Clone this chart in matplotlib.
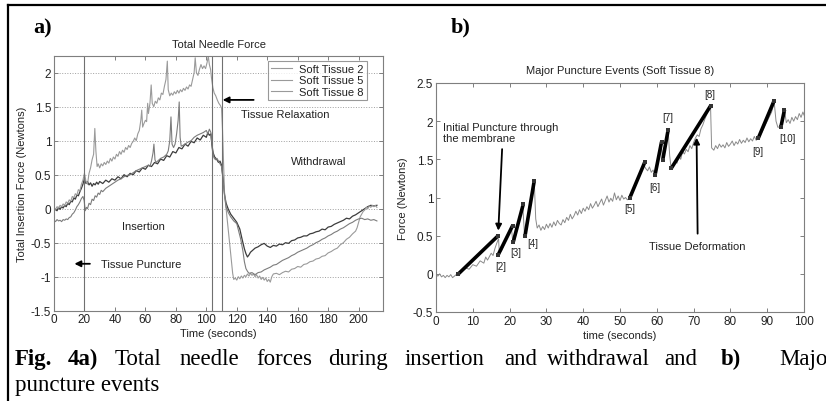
import numpy as np
import matplotlib
matplotlib.use("Agg")
import matplotlib.pyplot as plt
from matplotlib.lines import Line2D

plt.rcParams['font.family'] = ['Liberation Sans', 'DejaVu Sans']

# ---- panel a: total needle force, three tissues ----
t_st5 = [0, 1, 2, 3, 4, 5, 6, 7, 8, 9, 10, 11, 12, 13, 14, 15, 16, 17, 18, 19, 20, 21, 22, 23, 24, 25, 26,
         26.8, 27.5, 28.3, 29, 30, 31, 32, 33, 34, 35, 36, 37, 38, 39, 40, 41, 42, 43, 44, 45, 46, 47, 48, 49,
         50, 51, 52, 53, 54, 55, 56, 57, 57.6, 58.2, 59, 60, 60.8, 61.5, 62, 63, 63.8, 64.5, 65.5, 66.5, 67.5,
         68.5, 69.5, 70.5, 71.5, 72.5, 73.5, 74.4, 75, 76, 77, 78, 79, 80, 81, 82, 83, 84, 85, 86, 87, 88, 89,
         90, 91, 92, 92.7, 93.5, 94.5, 95.5, 96.5, 97.5, 98.5, 99.5, 100.5, 101.3, 102, 102.8, 103.4, 104.3,
         105.2, 106.2, 107.2, 108.2, 109.2, 110, 110.6, 111.3, 112, 113, 114.3, 115.5, 116.5, 117.3, 118, 119,
         120, 121, 122, 123, 124, 125, 126, 127, 128, 129, 130, 131, 132, 133, 134, 135, 136, 137, 138, 139,
         140, 141, 142, 143, 144, 146, 148, 150, 152, 154, 156, 158, 160, 162, 164, 166, 168, 170, 172, 174,
         176, 178, 180, 182, 184, 186, 188, 190, 192, 194, 196, 198, 199, 200, 201, 202, 203, 204, 205, 206,
         207, 208, 209, 210, 211, 212]
f_st5 = [0.02, -0.01, 0.03, 0.01, 0.05, 0.03, 0.07, 0.05, 0.1, 0.08, 0.13, 0.11, 0.18, 0.16, 0.22, 0.2, 0.28,
         0.26, 0.36, 0.42, 0.52, 0.4, 0.36, 0.52, 0.6, 0.72, 0.8, 1.18, 0.85, 0.62, 0.66, 0.6, 0.66, 0.63,
         0.68, 0.65, 0.7, 0.67, 0.74, 0.7, 0.76, 0.73, 0.8, 0.77, 0.84, 0.8, 0.86, 0.83, 0.9, 0.87, 0.93, 0.9,
         0.96, 0.99, 1.04, 1.0, 1.1, 1.15, 1.3, 1.45, 1.2, 1.25, 1.3, 1.28, 1.55, 1.4, 1.55, 1.82, 1.55, 1.5,
         1.58, 1.55, 1.63, 1.6, 1.7, 1.68, 1.8, 1.9, 2.17, 1.75, 1.66, 1.7, 1.67, 1.72, 1.69, 1.74, 1.7, 1.75,
         1.72, 1.77, 1.74, 1.79, 1.76, 1.82, 1.8, 1.9, 2.0, 2.22, 2.0, 1.96, 2.05, 2.12, 2.06, 2.1, 2.06, 2.15,
         2.24, 2.12, 2.05, 1.92, 1.78, 1.7, 1.66, 1.6, 1.55, 1.52, 1.48, 1.18, 0.7, 0.2, 0.0, -0.29, -0.55,
         -0.78, -0.95, -1.04, -1.02, -1.05, -1.0, -1.03, -0.99, -1.02, -0.98, -1.0, -0.96, -0.99, -0.95, -0.98,
         -0.96, -1.0, -0.97, -1.02, -0.99, -1.04, -1.01, -1.05, -1.02, -1.07, -1.04, -1.08, -1.0, -0.96,
         -0.95, -0.97, -0.94, -0.92, -0.93, -0.89, -0.88, -0.85, -0.86, -0.82, -0.81, -0.78, -0.77, -0.74,
         -0.73, -0.7, -0.69, -0.65, -0.63, -0.6, -0.58, -0.53, -0.5, -0.45, -0.42, -0.37, -0.33, -0.28, -0.2,
         -0.12, -0.08, -0.04, -0.02, 0.02, 0.0, 0.04, 0.02, 0.05, 0.03, 0.05, 0.02]

t_st2 = [0, 2, 3, 4, 5, 6, 7, 8, 9, 10, 11, 12, 13, 14, 15, 16, 17, 18, 19, 20, 21, 22, 23, 24, 25, 26, 27,
         28, 29, 30, 32, 34, 36, 38, 40, 42, 44, 46, 48, 50, 52, 54, 56, 58, 60, 62, 64, 66, 68, 70, 72, 74,
         76, 78, 80, 82, 84, 86, 88, 90, 92, 94, 96, 98, 100, 101, 102, 103, 103.6, 104.5, 105.5, 106.7, 108,
         109, 110, 111, 112, 113, 114.3, 116, 118, 120, 122, 123.5, 125, 126, 127, 128, 129, 130, 132, 134,
         136, 138, 140, 142, 144, 146, 148, 150, 152, 154, 156, 158, 160, 162, 164, 166, 168, 170, 172, 174,
         176, 178, 180, 182, 184, 186, 188, 190, 192, 194, 196, 198, 200, 202, 204, 206, 208, 210, 212]
f_st2 = [0.0, -0.03, 0.02, -0.01, 0.03, 0.01, 0.05, 0.03, 0.08, 0.06, 0.11, 0.1, 0.16, 0.14, 0.2, 0.19, 0.25,
         0.3, 0.36, 0.45, 0.37, 0.4, 0.35, 0.38, 0.33, 0.37, 0.35, 0.39, 0.36, 0.4, 0.37, 0.42, 0.39, 0.44,
         0.42, 0.47, 0.44, 0.5, 0.47, 0.52, 0.5, 0.56, 0.54, 0.6, 0.58, 0.64, 0.62, 0.68, 0.66, 0.73, 0.71,
         0.78, 0.76, 0.84, 0.82, 0.9, 0.88, 0.95, 0.92, 0.99, 0.97, 1.04, 1.01, 1.08, 1.05, 1.12, 1.08, 1.1,
         0.95, 0.82, 0.76, 0.73, 0.68, 0.7, 0.64, 0.45, 0.2, 0.08, 0.0, -0.08, -0.14, -0.2, -0.3, -0.45, -0.59,
         -0.66, -0.71, -0.68, -0.64, -0.62, -0.58, -0.56, -0.53, -0.51, -0.55, -0.57, -0.54, -0.55, -0.52,
         -0.53, -0.5, -0.51, -0.47, -0.46, -0.43, -0.42, -0.4, -0.4, -0.37, -0.36, -0.34, -0.33, -0.3, -0.31,
         -0.27, -0.26, -0.23, -0.21, -0.19, -0.17, -0.14, -0.15, -0.11, -0.09, -0.06, -0.03, 0.0, 0.03, 0.05,
         0.04, 0.05]

t_st8 = [0, 1, 2, 3, 4, 5, 6, 7, 8, 9, 10, 11, 12, 13, 14, 15, 16, 17, 18, 19, 19.8, 20.5, 21.3, 22, 23, 24,
         25, 26, 27, 28, 29, 30, 31, 32, 34, 36, 38, 40, 42, 44, 46, 48, 50, 52, 54, 56, 58, 60, 62, 63, 64,
         65, 65.6, 66.3, 67, 68, 70, 72, 74, 75, 76, 76.8, 77.5, 78.5, 79.5, 80.5, 81.5, 82.2, 82.8, 83.5,
         84.5, 86, 88, 90, 92, 94, 96, 98, 100, 101, 102, 103, 104, 105, 106, 107, 108, 109, 110, 111, 112,
         113, 114.5, 116, 118, 120, 121.5, 122.6, 124, 125, 126, 127, 128, 130, 132, 134, 136, 138, 140, 142,
         144, 146, 148, 150, 152, 154, 156, 158, 160, 162, 164, 166, 168, 170, 172, 174, 176, 178, 180, 182,
         184, 186, 188, 190, 192, 194, 196, 198, 200, 202, 204, 206, 208, 210, 212]
f_st8 = [-0.17, -0.19, -0.16, -0.18, -0.17, -0.19, -0.16, -0.17, -0.15, -0.16, -0.13, -0.12, -0.08, -0.06,
         -0.02, 0.03, 0.06, 0.1, 0.15, 0.18, 0.12, -0.03, 0.02, 0.0, 0.08, 0.06, 0.14, 0.12, 0.19, 0.17, 0.23,
         0.21, 0.27, 0.25, 0.3, 0.33, 0.36, 0.39, 0.42, 0.44, 0.47, 0.49, 0.5, 0.53, 0.56, 0.58, 0.6, 0.62,
         0.64, 0.62, 0.7, 0.82, 0.95, 0.72, 0.68, 0.7, 0.74, 0.76, 0.8, 0.85, 1.0, 1.35, 0.95, 0.9, 0.95, 1.1,
         1.3, 1.57, 1.05, 0.92, 0.93, 0.95, 0.98, 1.0, 1.05, 1.08, 1.1, 1.12, 1.15, 1.1, 1.17, 1.12, 0.86,
         0.75, 0.72, 0.74, 0.7, 0.66, 0.62, 0.42, 0.2, 0.02, -0.06, -0.12, -0.18, -0.22, -0.35, -0.45, -0.62,
         -0.78, -0.88, -0.92, -0.95, -0.94, -0.97, -0.94, -0.93, -0.9, -0.88, -0.86, -0.83, -0.82, -0.79,
         -0.76, -0.74, -0.72, -0.69, -0.67, -0.64, -0.62, -0.6, -0.58, -0.55, -0.53, -0.5, -0.48, -0.45,
         -0.43, -0.4, -0.38, -0.35, -0.33, -0.3, -0.28, -0.25, -0.22, -0.2, -0.17, -0.15, -0.14, -0.16,
         -0.15, -0.17, -0.16, -0.18]

phase_lines = [20, 103.5, 110]

# ---- panel b: soft tissue 8, major puncture events ----
t_b = [0, 0.5, 1, 1.5, 2, 2.5, 3, 3.5, 4, 4.5, 5, 5.5, 6, 7, 8, 9, 10, 11, 12, 13, 13.5, 14, 15, 15.5, 16,
       16.5, 17, 17.2, 17.8, 18.5, 19.5, 20.5, 20.8, 21.2, 22, 23, 23.6, 24, 24.3, 25, 26, 26.7, 27.1, 27.5,
       28, 28.5, 29, 29.5, 30, 30.5, 31, 31.5, 32, 32.5, 33, 33.5, 34, 34.5, 35, 35.5, 36, 36.5, 37, 37.5,
       38, 38.5, 39, 39.5, 40, 40.5, 41, 41.5, 42, 42.5, 43, 43.5, 44, 44.5, 45, 45.5, 46, 46.5, 47, 47.5,
       48, 48.5, 49, 49.5, 50, 50.5, 51, 51.5, 52, 52.7, 53.5, 54.5, 55.5, 56.5, 57, 57.5, 58, 58.5, 59,
       59.5, 60, 60.5, 61.2, 61.6, 62, 62.5, 63.1, 63.5, 63.9, 64.5, 65, 65.5, 66, 66.5, 67, 67.5, 68, 68.5,
       69, 69.5, 70, 70.5, 71, 71.5, 72, 72.5, 73, 73.5, 74, 74.6, 74.9, 75.5, 76, 76.5, 77, 77.5, 78, 78.5,
       79, 79.5, 80, 80.5, 81, 81.5, 82, 82.5, 83, 83.5, 84, 84.5, 85, 85.5, 86, 86.5, 87, 87.6, 88.5, 89.5,
       90.5, 91.2, 91.9, 92.4, 92.9, 93.7, 94.2, 94.7, 95.2, 95.7, 96.2, 96.7, 97.2, 97.7, 98.2, 98.7, 99.2,
       99.7, 100]
f_b = [-0.01, -0.03, 0.0, -0.04, -0.02, -0.05, -0.02, -0.04, -0.01, -0.05, -0.03, -0.01, 0.0, 0.03, 0.08,
       0.06, 0.12, 0.1, 0.17, 0.14, 0.22, 0.18, 0.27, 0.24, 0.33, 0.4, 0.46, 0.28, 0.3, 0.38, 0.5, 0.6, 0.45,
       0.4, 0.58, 0.8, 0.88, 0.55, 0.48, 0.75, 1.05, 1.21, 0.72, 0.6, 0.64, 0.57, 0.62, 0.58, 0.65, 0.6,
       0.66, 0.61, 0.68, 0.63, 0.7, 0.66, 0.64, 0.71, 0.67, 0.74, 0.7, 0.78, 0.72, 0.76, 0.82, 0.77, 0.84,
       0.79, 0.86, 0.82, 0.88, 0.84, 0.92, 0.86, 0.9, 0.95, 0.88, 0.93, 0.98, 0.9, 0.96, 1.02, 0.94, 0.99,
       0.95, 1.06, 0.97, 1.02, 0.96, 1.03, 0.98, 1.0, 0.97, 1.0, 1.1, 1.22, 1.33, 1.42, 1.38, 1.35, 1.4, 1.33,
       1.36, 1.28, 1.4, 1.55, 1.7, 1.48, 1.6, 1.75, 1.87, 1.55, 1.38, 1.42, 1.48, 1.45, 1.55, 1.5, 1.6, 1.57,
       1.63, 1.6, 1.68, 1.64, 1.72, 1.78, 1.82, 1.8, 1.9, 1.95, 2.02, 2.08, 2.14, 2.2, 1.65, 1.62, 1.68, 1.64,
       1.7, 1.66, 1.69, 1.65, 1.72, 1.67, 1.7, 1.74, 1.68, 1.73, 1.7, 1.76, 1.71, 1.75, 1.72, 1.78, 1.73,
       1.77, 1.74, 1.8, 1.75, 1.78, 1.85, 1.95, 2.05, 2.12, 2.25, 2.0, 1.92, 1.93, 2.05, 2.15, 1.98, 2.02,
       1.97, 2.05, 2.0, 2.06, 2.02, 2.1, 2.05, 2.12, 2.08]

# fitted puncture segments: start / end of each event
ev_t0 = [6.1, 16.9, 21.0, 24.2, 52.7, 59.5, 61.6, 63.9, 87.6, 93.7]
ev_f0 = [0.0, 0.25, 0.42, 0.5, 1.0, 1.29, 1.49, 1.38, 1.78, 1.92]
ev_t1 = [16.9, 20.8, 23.7, 26.7, 56.8, 61.3, 63.1, 74.6, 91.9, 94.7]
ev_f1 = [0.5, 0.63, 0.91, 1.22, 1.47, 1.73, 1.89, 2.2, 2.27, 2.15]
ev_labels = ['[2]', '[3]', '[4]', '[5]', '[6]', '[7]', '[8]', '[9]', '[10]']
ev_lab_t = [17.6, 21.7, 26.3, 52.7, 59.5, 63.1, 74.5, 87.4, 95.5]
ev_lab_f = [0.1, 0.28, 0.41, 0.86, 1.14, 2.05, 2.35, 1.61, 1.78]

AX_GRAY = '#7f7f7f'
TXT = '#222222'

fig = plt.figure(figsize=(8.26, 4.02), dpi=100)
fig.patch.set_facecolor('white')


def style_axes(ax):
    for s in ax.spines.values():
        s.set_color(AX_GRAY)
        s.set_linewidth(0.8)
    ax.tick_params(direction='in', length=3, width=0.7, color=AX_GRAY, labelcolor=TXT,
                   labelsize=8.5, top=True, right=True, pad=2)


# panel a
ax1 = fig.add_axes([54 / 826, 1 - 311.7 / 402, 329 / 826, 255 / 402])
ax1.plot(t_st2, f_st2, color='#3c3c3c', lw=0.9, label='Soft Tissue 2')
ax1.plot(t_st5, f_st5, color='#9a9a9a', lw=0.8, label='Soft Tissue 5')
ax1.plot(t_st8, f_st8, color='#7c7c7c', lw=0.8, label='Soft Tissue 8')
for x in phase_lines:
    ax1.axvline(x, color='#707070', lw=0.8)
ax1.set_xlim(0, 216)
ax1.set_ylim(-1.5, 2.25)
ax1.set_xticks(np.arange(0, 201, 20))
ax1.set_yticks(np.arange(-1.5, 2.01, 0.5))
ax1.set_yticklabels(['-1.5', '-1', '-0.5', '0', '0.5', '1', '1.5', '2'])
ax1.yaxis.grid(True, linestyle=':', color='#a0a0a0', lw=0.7)
style_axes(ax1)
ax1.text(0.5, 1.046, 'Total Needle Force', transform=ax1.transAxes, ha='center', va='center',
         fontsize=8, color=TXT)
ax1.set_xlabel('Time (seconds)', fontsize=8, color=TXT)
ax1.xaxis.set_label_coords(0.5, -0.067)
ax1.set_ylabel('Total Insertion Force (Newtons)', fontsize=8, color=TXT)
ax1.yaxis.set_label_coords(-0.082, 0.5)
leg = ax1.legend(loc='upper right', bbox_to_anchor=(0.951, 0.979), borderaxespad=0, fontsize=8,
                 fancybox=False, edgecolor=AX_GRAY, handlelength=1.9, handletextpad=0.6,
                 labelspacing=0.1, borderpad=0.3)
leg.get_frame().set_linewidth(0.8)
for line in leg.get_lines():
    line.set_color('#9a9a9a')
    line.set_linewidth(0.8)
for txt in leg.get_texts():
    txt.set_color(TXT)

arrow = dict(arrowstyle='-|>', color='black', lw=1.3, mutation_scale=9)
ax1.annotate('', xy=(108.9, 1.6), xytext=(132.9, 1.6), arrowprops=arrow)
ax1.text(122.6, 1.39, 'Tissue Relaxation', fontsize=8, color=TXT, va='center')
ax1.text(174, 0.7, 'Withdrawal', fontsize=8, color=TXT, ha='center', va='center')
ax1.text(59, -0.26, 'Insertion', fontsize=8, color=TXT, ha='center', va='center')
ax1.annotate('', xy=(11.6, -0.81), xytext=(25.4, -0.81), arrowprops=arrow)
ax1.text(30.8, -0.81, 'Tissue Puncture', fontsize=8, color=TXT, va='center')

# panel b
ax2 = fig.add_axes([436 / 826, 1 - 313 / 402, 368 / 826, 229 / 402])
ax2.plot(t_b, f_b, color='#8a8a8a', lw=0.7)
for a, b, c, d in zip(ev_t0, ev_f0, ev_t1, ev_f1):
    ax2.plot([a, c], [b, d], color='black', lw=2.6, solid_capstyle='butt',
             marker='s', markersize=2.8, markerfacecolor='#333333', markeredgewidth=0)
for lab, x, y in zip(ev_labels, ev_lab_t, ev_lab_f):
    ax2.text(x, y, lab, fontsize=7, color=TXT, ha='center', va='center')
ax2.set_xlim(0, 100)
ax2.set_ylim(-0.5, 2.5)
ax2.set_xticks(np.arange(0, 101, 10))
ax2.set_yticks(np.arange(-0.5, 2.51, 0.5))
ax2.set_yticklabels(['-0.5', '0', '0.5', '1', '1.5', '2', '2.5'])
style_axes(ax2)
ax2.text(0.5, 1.057, 'Major Puncture Events (Soft Tissue 8)', transform=ax2.transAxes,
         ha='center', va='center', fontsize=8, color=TXT)
ax2.set_xlabel('time (seconds)', fontsize=8, color=TXT)
ax2.xaxis.set_label_coords(0.5, -0.079)
ax2.set_ylabel('Force (Newtons)', fontsize=8, color=TXT)
ax2.yaxis.set_label_coords(-0.076, 0.5)
ax2.text(1.9, 1.85, 'Initial Puncture through\nthe membrane', fontsize=8, color=TXT,
         va='center', linespacing=1.15)
ax2.annotate('', xy=(16.9, 0.53), xytext=(18.0, 1.67), arrowprops=arrow)
ax2.annotate('', xy=(70.8, 1.82), xytext=(71.1, 0.49), arrowprops=arrow)
ax2.text(71.1, 0.37, 'Tissue Deformation', fontsize=8, color=TXT, ha='center', va='center')

# page frame and caption
fig.add_artist(Line2D([8 / 826, 1], [1 - 6 / 402, 1 - 6 / 402], transform=fig.transFigure,
                      color='black', lw=1.6))
fig.add_artist(Line2D([8 / 826, 8 / 826], [0, 1 - 6 / 402], transform=fig.transFigure,
                      color='black', lw=1.6))

serif = ['Liberation Serif', 'DejaVu Serif']
fig.text(33 / 826, 1 - 33 / 402, 'a)', family=serif, fontsize=16, weight='bold', va='baseline')
fig.text(451 / 826, 1 - 32 / 402, 'b)', family=serif, fontsize=16, weight='bold', va='baseline')

# justified first caption line: each word placed where it sits on the page
cap_words = ['Fig.', '4a)', 'Total', 'needle', 'forces', 'during', 'insertion', 'and', 'withdrawal',
             'and', 'b)', 'Major']
cap_x = [15, 68, 115, 180, 256, 328, 405, 504, 547, 664, 721, 779]
cap_bold = ['Fig.', '4a)', 'b)']
for w, xp in zip(cap_words, cap_x):
    fig.text(xp / 826, 1 - 365 / 402, w, family=serif, fontsize=16.5, va='baseline',
             weight='bold' if w in cap_bold else 'normal')
fig.text(15 / 826, 1 - 391 / 402, 'puncture events', family=serif, fontsize=16.5, va='baseline')

fig.savefig('out.png', dpi=100, facecolor='white')
